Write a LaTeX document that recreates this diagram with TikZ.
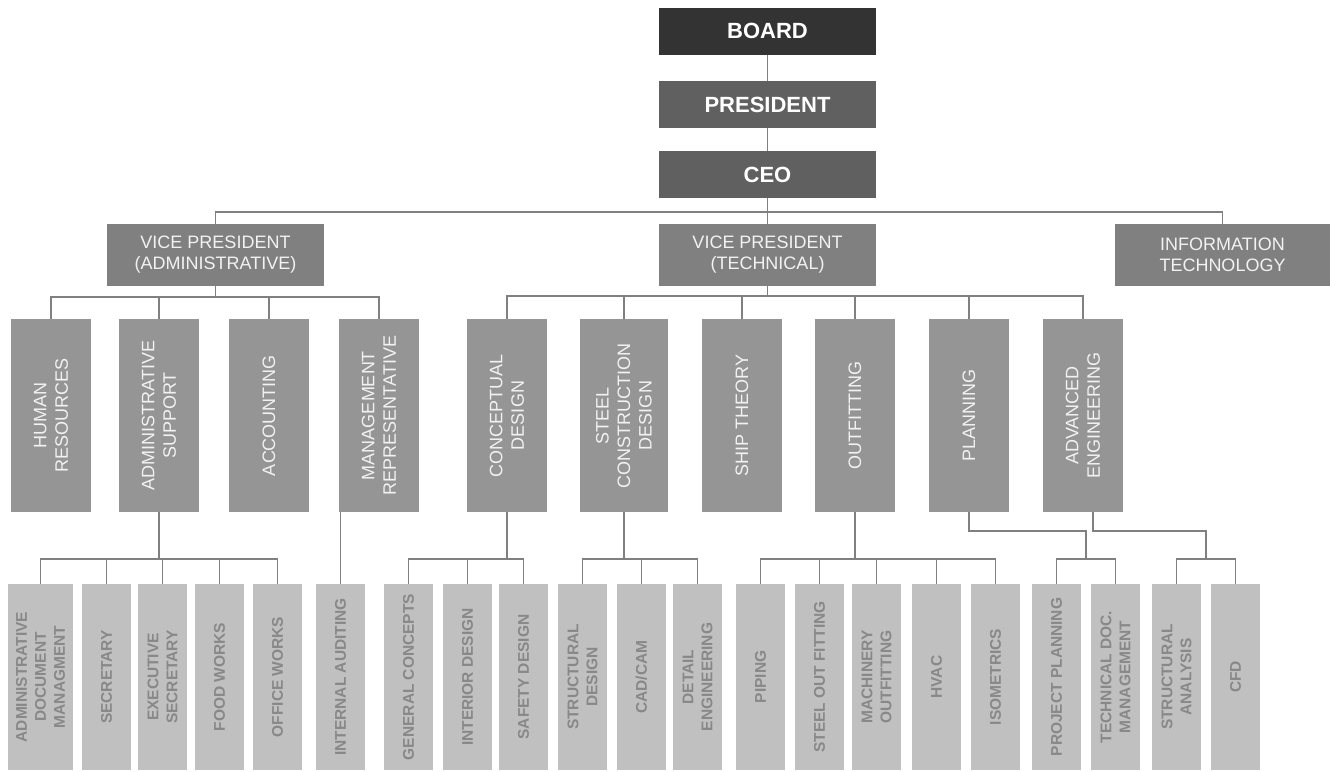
\documentclass[tikz,border=0pt]{standalone}
\usepackage{fontspec}
\setmainfont{Liberation Sans}
\usepackage{tikz}
\usetikzlibrary{positioning,calc}
\definecolor{boardgray}{RGB}{51,51,51}
\definecolor{presgray}{RGB}{96,96,96}
\definecolor{vpgray}{RGB}{128,128,128}
\definecolor{deptgray}{RGB}{149,149,149}
\definecolor{unitgray}{RGB}{192,192,192}
\definecolor{unittext}{RGB}{136,136,136}
\definecolor{linegray}{RGB}{128,128,128}
\definecolor{softwhite}{RGB}{242,242,242}

\begin{document}
\begin{tikzpicture}[x=1pt,y=-1pt,
    conn/.style={draw=linegray, line width=1.8pt},
    topbox/.style={fill=#1, text=white, minimum width=217pt, minimum height=47pt, inner sep=0pt,
        font=\fontsize{22}{26}\selectfont\bfseries},
    vpbox/.style={fill=vpgray, text=softwhite, minimum width=217pt, minimum height=62pt, inner sep=0pt,
        align=center, font=\fontsize{18}{21}\selectfont},
    deptbox/.style={fill=deptgray, text=softwhite, rotate=90, minimum width=193pt, minimum height=80pt,
        inner sep=0pt, align=center, font=\fontsize{18}{21.5}\selectfont},
    unitbox/.style={fill=unitgray, text=unittext, rotate=90, minimum width=186pt, minimum height=49pt,
        inner sep=0pt, align=center, font=\fontsize{15.5}{19}\selectfont\bfseries}]

    \fill[white] (0,0) rectangle (1330,771);
    \useasboundingbox (0,0) rectangle (1330,771);

    % top of the chart
    \node[topbox=boardgray] (board) at (767.5,31) {BOARD};
    \node[topbox=presgray] (pres) at (767.5,104.5) {PRESIDENT};
    \node[topbox=presgray] (ceo) at (767.5,174.5) {CEO};

    % vice presidents
    \node[vpbox] (vpa) at (215.5,255) {VICE PRESIDENT\\(ADMINISTRATIVE)};
    \node[vpbox] (vpt) at (767.5,255) {VICE PRESIDENT\\(TECHNICAL)};
    \node[vpbox, minimum width=215pt] (it) at (1222.5,255) {INFORMATION\\TECHNOLOGY};

    % departments
    \node[deptbox] (hr) at (51,415.5) {HUMAN\\RESOURCES};
    \node[deptbox] (as) at (159,415.5) {ADMINISTRATIVE\\SUPPORT};
    \node[deptbox] (ac) at (269,415.5) {ACCOUNTING};
    \node[deptbox] (mr) at (379,415.5) {MANAGEMENT\\REPRESENTATIVE};
    \node[deptbox] (cd) at (507,415.5) {CONCEPTUAL\\DESIGN};
    \node[deptbox, minimum height=88pt] (sc) at (624,415.5) {STEEL\\CONSTRUCTION\\DESIGN};
    \node[deptbox] (st) at (742,415.5) {SHIP THEORY};
    \node[deptbox] (of) at (855,415.5) {OUTFITTING};
    \node[deptbox] (pl) at (969,415.5) {PLANNING};
    \node[deptbox] (ae) at (1083,415.5) {ADVANCED\\ENGINEERING};

    % units
    \node[unitbox, minimum height=65pt] (adm) at (40.5,677) {ADMINISTRATIVE\\DOCUMENT\\MANAGMENT};
    \node[unitbox] (sec) at (106.5,677) {SECRETARY};
    \node[unitbox] (exe) at (162.5,677) {EXECUTIVE\\SECRETARY};
    \node[unitbox] (food) at (219.5,677) {FOOD WORKS};
    \node[unitbox] (off) at (277.5,677) {OFFICE WORKS};
    \node[unitbox] (ia) at (340.5,677) {INTERNAL AUDITING};
    \node[unitbox] (gc) at (408.5,677) {GENERAL CONCEPTS};
    \node[unitbox] (id) at (467.5,677) {INTERIOR DESIGN};
    \node[unitbox] (sd) at (523.5,677) {SAFETY DESIGN};
    \node[unitbox] (std) at (582.5,677) {STRUCTURAL\\DESIGN};
    \node[unitbox] (cad) at (641.5,677) {CAD/CAM};
    \node[unitbox] (det) at (697.5,677) {DETAIL\\ENGINEERING};
    \node[unitbox] (pip) at (760.5,677) {PIPING};
    \node[unitbox] (sof) at (819.5,677) {STEEL OUT FITTING};
    \node[unitbox] (mo) at (876.5,677) {MACHINERY\\OUTFITTING};
    \node[unitbox] (hv) at (936.5,677) {HVAC};
    \node[unitbox] (iso) at (995.5,677) {ISOMETRICS};
    \node[unitbox] (pp) at (1056.5,677) {PROJECT PLANNING};
    \node[unitbox] (td) at (1115.5,677) {TECHNICAL DOC.\\MANAGEMENT};
    \node[unitbox] (sa) at (1176.5,677) {STRUCTURAL\\ANALYSIS};
    \node[unitbox] (cfd) at (1235.5,677) {CFD};

    % connectors
    \draw[conn] (board.south) -- (pres.north);
    \draw[conn] (pres.south) -- (ceo.north);
    \draw[conn] (ceo.south) -- (vpt.north);
    \draw[conn] (vpa.north) -- ++(0,-12) -| (it.north);
    \foreach \d in {hr,as,ac,mr}
        \draw[conn] (vpa.south) -- ++(0,11) -| (\d.east);
    \foreach \d in {cd,sc,st,of,pl,ae}
        \draw[conn] (vpt.south) -- ++(0,10) -| (\d.east);
    \foreach \u in {adm,sec,exe,food,off}
        \draw[conn] (as.west) -- ++(0,47) -| (\u.east);
    \draw[conn] (ia.east) -- (ia.east |- mr.west);
    \foreach \u in {gc,id,sd}
        \draw[conn] (cd.west) -- ++(0,47) -| (\u.east);
    \foreach \u in {std,cad,det}
        \draw[conn] (sc.west) -- ++(0,47) -| (\u.east);
    \foreach \u in {pip,sof,mo,hv,iso}
        \draw[conn] (of.west) -- ++(0,47) -| (\u.east);

    \coordinate (plj) at ($(pp.east)!.5!(td.east)+(0,-25)$);
    \coordinate (aej) at ($(sa.east)!.5!(cfd.east)+(0,-25)$);
    \draw[conn] (pl.west) -- ++(0,19) -| (plj);
    \draw[conn] (pp.east) |- (plj) -| (td.east);
    \draw[conn] ([xshift=10pt]ae.west) -- ++(0,19) -| (aej);
    \draw[conn] (sa.east) |- (aej) -| (cfd.east);
\end{tikzpicture}
\end{document}
